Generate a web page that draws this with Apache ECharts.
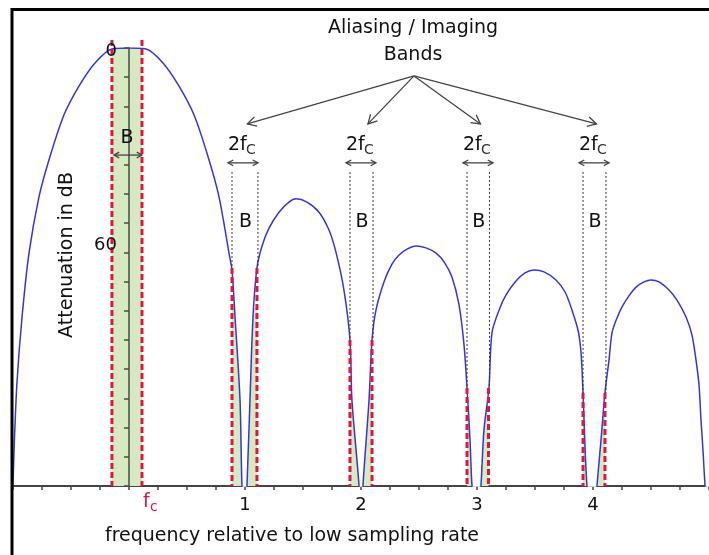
<!DOCTYPE html>
<html>
<head>
<meta charset="utf-8">
<script src="https://cdn.jsdelivr.net/npm/echarts@6/dist/echarts.min.js"></script>
<style>
  html, body { margin: 0; padding: 0; background: #fff; }
  #chart { width: 709px; height: 555px; }
</style>
</head>
<body>
<div id="chart"></div>
<script>
// filter response: [frequency / low rate, attenuation dB]
const lobe0 = [
  [-1.0, 135], [-0.991, 123.9], [-0.966, 103.3], [-0.922, 82.9], [-0.862, 63.2],
  [-0.776, 45.9], [-0.69, 34.5], [-0.56, 20.6], [-0.43, 11.7], [-0.3, 4.9],
  [-0.147, 0.3], [0, 0], [0.147, 0.3], [0.3, 4.9], [0.43, 11.7],
  [0.56, 20.6], [0.69, 34.5], [0.776, 45.9], [0.862, 63.2], [0.888, 68.5],
  [0.914, 82.9], [0.957, 108.5], [0.974, 135], [1.0, 150],
];
const lobe1 = [
  [1.017, 135], [1.043, 108.5], [1.069, 82.9], [1.103, 67.8], [1.147, 61.0],
  [1.207, 55.5], [1.293, 50.6], [1.379, 47.5], [1.44, 46.5], [1.534, 47.5],
  [1.638, 50.6], [1.724, 56.1], [1.784, 62.9], [1.853, 74.6], [1.905, 90.0],
  [1.922, 108.5], [1.983, 135], [2.0, 150],
];
const lobe2 = [
  [2.017, 135], [2.069, 108.5], [2.095, 90.0], [2.129, 80.8], [2.198, 72.1],
  [2.267, 66.6], [2.328, 63.8], [2.397, 62.0], [2.474, 61.0], [2.56, 61.6],
  [2.647, 63.2], [2.716, 65.9], [2.784, 70.6], [2.845, 79.2], [2.888, 91.5],
  [2.914, 104.8], [2.94, 120.8], [2.957, 135], [3.0, 150],
];
const lobe3 = [
  [3.034, 135], [3.06, 117.7], [3.103, 104.8], [3.129, 87.8], [3.19, 80.8],
  [3.25, 76.1], [3.336, 71.8], [3.414, 69.3], [3.491, 68.4], [3.578, 69.0],
  [3.681, 71.5], [3.759, 75.2], [3.819, 80.8], [3.871, 87.0], [3.897, 94.0],
  [3.914, 106.3], [3.948, 135], [4.0, 150],
];
const lobe4 = [
  [4.034, 135], [4.069, 120.8], [4.103, 106.3], [4.138, 96.2], [4.164, 87.8],
  [4.207, 83.2], [4.25, 79.8], [4.31, 76.4], [4.371, 73.7], [4.44, 72.1],
  [4.5, 71.5], [4.569, 72.1], [4.655, 74.6], [4.724, 77.7], [4.802, 82.9],
  [4.853, 88.4], [4.888, 96.2], [4.914, 103.9], [4.931, 114.7], [4.948, 123.9],
  [4.966, 135], [5.0, 150],
];

// pass band (index 0) and the aliasing / imaging bands
const bandLeft = [-0.147, 0.888, 1.905, 2.914, 3.914];
const bandRight = [0.112, 1.103, 2.095, 3.099, 4.103];
const redTopDb = [-2.5, 67.8, 90.0, 104.8, 106.3];
const greenTopDb = [0, 80.1, 103.9, 112.5, 113.1];
const arrowTipX = [null, 1.02, 2.06, 3.03, 4.03];

const xLabels = [1, 2, 3, 4];
const yLabels = [0, 60];

const DB_MAX = 135;
const FONT = "DejaVu Sans";
const RED = "#e0163c";
const GREEN = "#d7e9c2";
const INK = "#111";
const ARROW = "#444";

const curve = [...lobe0, ...lobe1, ...lobe2, ...lobe3, ...lobe4];

function arrowHead(tip, from, size) {
  const dx = from[0] - tip[0];
  const dy = from[1] - tip[1];
  const len = Math.sqrt(dx * dx + dy * dy) || 1;
  const ux = dx / len, uy = dy / len;
  const a = 0.5;
  const c = Math.cos(a), s = Math.sin(a);
  const p1 = [tip[0] + size * (ux * c - uy * s), tip[1] + size * (ux * s + uy * c)];
  const p2 = [tip[0] + size * (ux * c + uy * s), tip[1] + size * (-ux * s + uy * c)];
  return { type: "polyline", shape: { points: [p1, tip, p2] }, style: { stroke: ARROW, lineWidth: 1.3, fill: null } };
}

function arrowLine(from, to, head, both) {
  const out = [
    { type: "line", shape: { x1: from[0], y1: from[1], x2: to[0], y2: to[1] }, style: { stroke: ARROW, lineWidth: 1.3 } },
    arrowHead(to, from, head),
  ];
  if (both) out.push(arrowHead(from, to, head));
  return out;
}

function text(str, x, y, size, color, align) {
  return {
    type: "text",
    x, y,
    style: { text: str, fill: color || INK, font: `${size}px ${FONT}`, align: align || "center", verticalAlign: "middle" },
  };
}

function renderBand(params, api) {
  const i = params.dataIndex;
  const left = api.value(0), right = api.value(1), redTop = api.value(2);
  const [lx, top] = api.coord([left, redTop]);
  const [rx] = api.coord([right, redTop]);
  const bottom = api.coord([left, DB_MAX])[1];
  const cx = (lx + rx) / 2;
  const kids = [];
  const redStyle = { stroke: RED, lineWidth: 3, lineDash: [6, 3] };
  kids.push({ type: "line", shape: { x1: lx, y1: top, x2: lx, y2: bottom }, style: redStyle });
  kids.push({ type: "line", shape: { x1: rx, y1: top, x2: rx, y2: bottom }, style: redStyle });

  if (i === 0) {
    const yB = api.coord([0, 27.7])[1];
    const yA = api.coord([0, 33.0])[1];
    kids.push(text("B", cx, yB, 19));
    kids.push(...arrowLine([lx + 2, yA], [rx, yA], 6, true));
    const yF = bottom + 16;
    kids.push(text("f", rx + 1, yF, 19, RED, "left"));
    kids.push(text("c", rx + 8, yF + 5, 14, RED, "left"));
    // tick labels of the attenuation axis, at the zero frequency line
    for (const v of yLabels) {
      const p = api.coord([0, v]);
      kids.push(text(String(v), p[0] - 12, p[1] + 3, 18, INK, "right"));
    }
    return { type: "group", children: kids };
  }

  const dotTop = api.coord([left, 38.2])[1];
  const dotStyle = { stroke: "#333", lineWidth: 1, lineDash: [2, 2] };
  kids.push({ type: "line", shape: { x1: lx, y1: dotTop, x2: lx, y2: top }, style: dotStyle });
  kids.push({ type: "line", shape: { x1: rx + 1, y1: dotTop, x2: rx + 1, y2: top }, style: dotStyle });

  const yB = api.coord([0, 53.6])[1];
  const yT = api.coord([0, 29.9])[1];
  const yA = api.coord([0, 35.4])[1];
  kids.push(text("B", cx + 1, yB, 19));
  kids.push(text("2f", lx - 4, yT, 19, INK, "left"));
  kids.push(text("C", lx + 14, yT + 5, 14, "#333", "left"));
  kids.push(...arrowLine([lx - 4, yA], [lx + 26, yA], 6, true));

  const src = api.coord([2.457, 8.6]);
  const tip = api.coord([arrowTipX[i], 23.4]);
  kids.push(...arrowLine(src, tip, 10, false));
  return { type: "group", children: kids };
}

const chart = echarts.init(document.getElementById("chart"), null, { renderer: "canvas" });

chart.setOption({
  animation: false,
  backgroundColor: "#fff",
  grid: { left: 13, right: 0, top: 48, bottom: 69, containLabel: false, outerBoundsMode: "none" },
  xAxis: {
    type: "value",
    min: -1,
    max: 5,
    interval: 0.25,
    position: "bottom",
    axisLine: { onZero: false, lineStyle: { color: "#444", width: 2 } },
    axisTick: { length: 4, lineStyle: { color: "#444", width: 1.5 } },
    axisLabel: { customValues: xLabels, color: INK, fontFamily: FONT, fontSize: 18, margin: 10 },
    splitLine: { show: false },
  },
  yAxis: {
    type: "value",
    inverse: true,
    min: 0,
    max: DB_MAX,
    interval: 9,
    z: 5,
    axisLine: { show: true, onZero: true, lineStyle: { color: "#4a4a4a", width: 1.5 } },
    axisTick: { show: true, length: 5, lineStyle: { color: "#4a4a4a", width: 1.5 } },
    axisLabel: { show: false },
    splitLine: { show: false },
  },
  series: [
    {
      name: "bands-fill",
      type: "custom",
      z: 1,
      silent: true,
      data: bandLeft.map((l, i) => [l, bandRight[i], greenTopDb[i]]),
      encode: { x: [0, 1], y: 2 },
      renderItem: (params, api) => {
        const p0 = api.coord([api.value(0), api.value(2)]);
        const p1 = api.coord([api.value(1), DB_MAX]);
        return {
          type: "rect",
          shape: { x: p0[0], y: p0[1], width: p1[0] - p0[0], height: p1[1] - p0[1] },
          style: { fill: GREEN },
        };
      },
    },
    {
      name: "response",
      type: "line",
      z: 2,
      data: curve,
      smooth: 0.3,
      showSymbol: false,
      clip: true,
      lineStyle: { color: "#3535d8", width: 1.5 },
      areaStyle: { color: "#fff", opacity: 1, origin: "start" },
    },
    {
      name: "bands",
      type: "custom",
      z: 6,
      silent: true,
      clip: false,
      data: bandLeft.map((l, i) => [l, bandRight[i], redTopDb[i]]),
      encode: { x: [0, 1], y: 2 },
      renderItem: renderBand,
    },
  ],
  graphic: [
    { type: "line", z: 20, shape: { x1: 12, y1: 9.5, x2: 709, y2: 9.5 }, style: { stroke: "#000", lineWidth: 3 } },
    { type: "line", z: 20, shape: { x1: 12, y1: 8, x2: 12, y2: 555 }, style: { stroke: "#000", lineWidth: 3 } },
    { type: "text", z: 20, x: 413, y: 28, style: { text: "Aliasing / Imaging", font: `19px ${FONT}`, fill: INK, align: "center", verticalAlign: "middle" } },
    { type: "text", z: 20, x: 413, y: 55, style: { text: "Bands", font: `19px ${FONT}`, fill: INK, align: "center", verticalAlign: "middle" } },
    { type: "text", z: 20, x: 67, y: 255, rotation: Math.PI / 2, style: { text: "Attenuation in dB", font: `19px ${FONT}`, fill: INK, align: "center", verticalAlign: "middle" } },
    { type: "text", z: 20, x: 292, y: 536, style: { text: "frequency relative to low sampling rate", font: `19px ${FONT}`, fill: INK, align: "center", verticalAlign: "middle" } },
  ],
});
</script>
</body>
</html>
